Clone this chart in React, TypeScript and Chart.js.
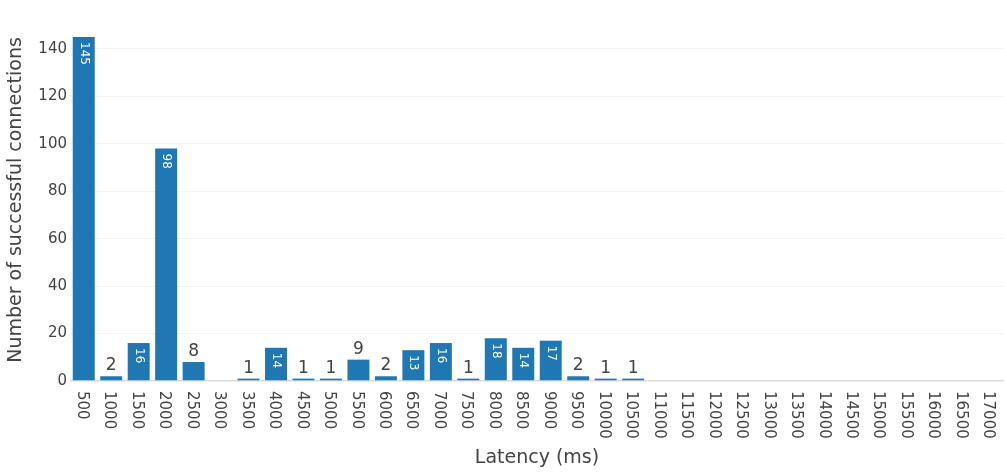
import React, { useEffect, useRef } from "react";
import { Chart, registerables } from "chart.js";

Chart.register(...registerables);

const categories: string[] = [
  "500", "1000", "1500", "2000", "2500", "3000", "3500", "4000", "4500", "5000",
  "5500", "6000", "6500", "7000", "7500", "8000", "8500", "9000", "9500", "10000",
  "10500", "11000", "11500", "12000", "12500", "13000", "13500", "14000", "14500",
  "15000", "15500", "16000", "16500", "17000",
];

const connections: (number | null)[] = [
  145, 2, 16, 98, 8, null, 1, 14, 1, 1,
  9, 2, 13, 16, 1, 18, 14, 17, 2, 1,
  1, null, null, null, null, null, null, null, null,
  null, null, null, null, null,
];

const yTicks: number[] = [0, 20, 40, 60, 80, 100, 120, 140];

const xTitle = "Latency (ms)";
const yTitle = "Number of successful connections";

const FONT = "'DejaVu Sans', Verdana, sans-serif";
const TEXT = "#444444";
const BAR = "#1f77b4";

const labelsPlugin = {
  id: "customLabels",
  afterDraw(chart: any) {
    const ctx = chart.ctx;
    const area = chart.chartArea;
    const xs = chart.scales.x;
    ctx.save();
    // x tick labels, rotated clockwise
    ctx.fillStyle = TEXT;
    ctx.font = `15px ${FONT}`;
    ctx.textAlign = "left";
    ctx.textBaseline = "middle";
    categories.forEach((c, i) => {
      const x = xs.getPixelForTick(i);
      ctx.save();
      ctx.translate(x - 2, area.bottom + 10);
      ctx.rotate(Math.PI / 2);
      ctx.fillText(c, 0, 0);
      ctx.restore();
    });
    // x title
    ctx.font = `19px ${FONT}`;
    ctx.textAlign = "center";
    ctx.textBaseline = "middle";
    ctx.fillText(xTitle, (area.left + area.right) / 2, 458);
    // y title
    ctx.save();
    ctx.translate(16, (area.top + area.bottom) / 2);
    ctx.rotate(-Math.PI / 2);
    ctx.fillText(yTitle, 0, 0);
    ctx.restore();
    // bar value labels
    const meta = chart.getDatasetMeta(0);
    meta.data.forEach((bar: any, i: number) => {
      const v = connections[i];
      if (v === null || v === undefined) return;
      const h = bar.base - bar.y;
      const txt = String(v);
      if (h > 25) {
        ctx.save();
        ctx.fillStyle = "#ffffff";
        ctx.font = `12px ${FONT}`;
        ctx.textAlign = "left";
        ctx.textBaseline = "middle";
        ctx.translate(bar.x, bar.y + 5);
        ctx.rotate(Math.PI / 2);
        ctx.fillText(txt, 0, 0);
        ctx.restore();
      } else {
        ctx.fillStyle = TEXT;
        ctx.font = `17px ${FONT}`;
        ctx.textAlign = "center";
        ctx.textBaseline = "bottom";
        ctx.fillText(txt, bar.x, bar.y - 2);
      }
    });
    ctx.restore();
  },
};

export default function App() {
  const ref = useRef<HTMLCanvasElement | null>(null);
  useEffect(() => {
    if (!ref.current) return;
    const chart = new Chart(ref.current, {
      type: "bar",
      data: {
        labels: categories,
        datasets: [
          {
            data: connections as any,
            backgroundColor: BAR,
            borderWidth: 0,
            categoryPercentage: 0.8,
            barPercentage: 1,
          },
        ],
      },
      options: {
        animation: false,
        responsive: true,
        maintainAspectRatio: false,
        layout: { padding: { top: 19, right: 3, left: 0, bottom: 0 } },
        plugins: {
          legend: { display: false },
          tooltip: { enabled: false },
          title: { display: false },
        },
        scales: {
          x: {
            grid: { display: false },
            border: { display: false },
            ticks: { display: false },
            afterFit: (s: any) => {
              s.height = 95;
            },
          },
          y: {
            min: 0,
            max: 152.6,
            afterBuildTicks: (s: any) => {
              s.ticks = yTicks.map((v) => ({ value: v }));
            },
            afterFit: (s: any) => {
              s.width = 70;
            },
            border: { display: false },
            grid: {
              drawTicks: false,
              color: (c: any) => (c.tick && c.tick.value === 0 ? "#dcdcdc" : "#f3f3f3"),
              lineWidth: (c: any) => (c.tick && c.tick.value === 0 ? 1.5 : 1),
            },
            ticks: {
              color: TEXT,
              font: { family: FONT, size: 15 },
              padding: 3,
            },
          },
        },
      },
      plugins: [labelsPlugin],
    });
    return () => chart.destroy();
  }, []);
  return (
    <div style={{ position: "absolute", left: 0, top: 0, width: 1007, height: 476, background: "#fff" }}>
      <canvas ref={ref} />
    </div>
  );
}
